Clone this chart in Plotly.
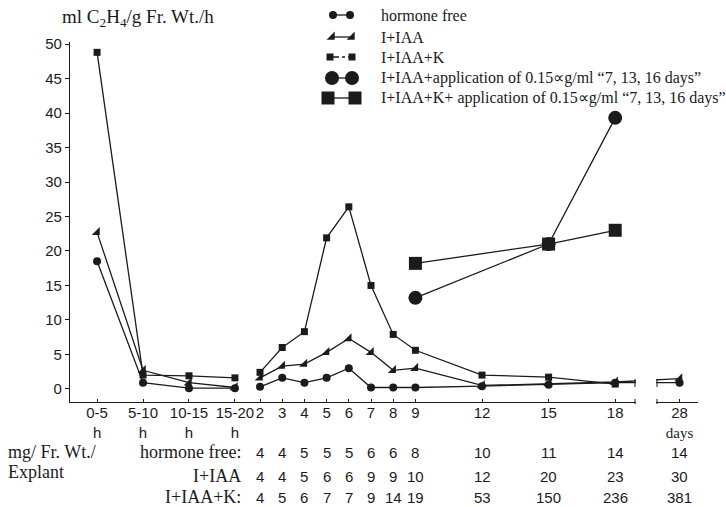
"""Ethylene release of explants: hours 0-20 then days 2-28, with fresh weight table below."""

import plotly.graph_objects as go

W, H = 726, 507

# ── Data ──────────────────────────────────────────────────────────────────
HOUR_BINS = ["0-5", "5-10", "10-15", "15-20"]
DAYS = [2, 3, 4, 5, 6, 7, 8, 9, 12, 15, 18, 28]

hormone_free_h = [18.5, 0.9, 0.1, 0.1]
hormone_free_d = [0.3, 1.6, 0.9, 1.6, 3.0, 0.2, 0.2, 0.2, 0.4, 0.6, 0.9, 0.9]

iaa_h = [22.7, 2.7, 0.9, 0.2]
iaa_d = [1.6, 3.3, 3.6, 5.3, 7.3, 5.3, 2.7, 3.0, 0.5, 0.8, 1.0, 1.5]

iaak_h = [48.8, 2.0, 1.9, 1.6]
iaak_d = [2.4, 6.0, 8.3, 21.9, 26.4, 15.0, 7.9, 5.6, 2.0, 1.7, 0.7, None]

APP_DAYS = [9, 15, 18]
iaa_app = [13.2, 21.0, 39.3]
iaak_app = [18.2, 21.0, 23.0]

# fresh weight table (mg / explant), one value per day column
fw_hormone_free = ["4", "4", "5", "5", "5", "6", "6", "8", "10", "11", "14", "14"]
fw_iaa = ["4", "4", "5", "6", "6", "9", "9", "10", "12", "20", "23", "30"]
fw_iaak = ["4", "5", "6", "7", "7", "9", "14", "19", "53", "150", "236", "381"]

LEGEND_NAMES = [
    "hormone free",
    "I+IAA",
    "I+IAA+K",
    "I+IAA+application of 0.15\u221dg/ml \u201c7, 13, 16 days\u201d",
    "I+IAA+K+ application of 0.15\u221dg/ml \u201c7, 13, 16 days\u201d",
]

# ── Broken x scale: hour bins squeezed in front of day 2, day 28 pulled in ─
def hour_pos(i):
    return 0.87 - 2.07 * (len(HOUR_BINS) - 1 - i)


def day_pos(d):
    return d if d <= 18 else 20.9


hour_x = [hour_pos(i) for i in range(len(HOUR_BINS))]
day_x = [day_pos(d) for d in DAYS]
app_x = [day_pos(d) for d in APP_DAYS]

INK = "#1b1b1b"
SANS = "Liberation Sans, Arial, sans-serif"
SERIF = "Liberation Serif, Times New Roman, serif"
LINE = dict(color=INK, width=1.3)

fig = go.Figure()


def add_series(h_vals, d_vals, symbol, size):
    fig.add_trace(go.Scatter(
        x=hour_x + [None] + day_x,
        y=h_vals + [None] + d_vals,
        mode="lines+markers",
        line=LINE,
        marker=dict(symbol=symbol, size=size, color=INK),
        connectgaps=False,
        showlegend=False,
    ))


add_series(hormone_free_h, hormone_free_d, "circle", 8)
add_series(iaa_h, iaa_d, "triangle-se", 9)
add_series(iaak_h, iaak_d, "square", 7)

fig.add_trace(go.Scatter(
    x=app_x, y=iaa_app, mode="lines+markers", line=LINE,
    marker=dict(symbol="circle", size=14, color=INK), showlegend=False,
))
fig.add_trace(go.Scatter(
    x=app_x, y=iaak_app, mode="lines+markers", line=LINE,
    marker=dict(symbol="square", size=13, color=INK), showlegend=False,
))

# ── Hand-drawn legend on a pixel overlay (markers at both ends) ──────────
legend_rows = [15, 37, 57, 78, 98]
legend_keys = [
    ([333, 350], "circle", 8, "solid"),
    ([332, 352], "triangle-se", 9, "solid"),
    ([330, 352], "square", 7, "dashdot"),
    ([332, 352], "circle", 14, "solid"),
    ([328, 355], "square", 13, "solid"),
]
for row_y, (xs, sym, sz, dash) in zip(legend_rows, legend_keys):
    fig.add_trace(go.Scatter(
        x=xs, y=[row_y, row_y], xaxis="x3", yaxis="y3",
        mode="lines+markers", line=dict(color=INK, width=1.3, dash=dash),
        marker=dict(symbol=sym, size=sz, color=INK), showlegend=False,
        hoverinfo="skip",
    ))

annotations = []
for row_y, name in zip(legend_rows, LEGEND_NAMES):
    annotations.append(dict(
        x=379, y=row_y, xref="x3", yref="y3", text=name, showarrow=False,
        xanchor="left", yanchor="middle", font=dict(family=SERIF, size=16, color=INK),
    ))

# y axis title (the <sub> parts throw off plotly's box measure, hence the larger x)
annotations.append(dict(
    x=60, y=18, xref="x3", yref="y3", showarrow=False,
    xanchor="left", yanchor="middle", align="left",
    text="ml C<sub>2</sub>H<sub>4</sub>/g Fr. Wt./h",
    font=dict(family=SERIF, size=19, color=INK),
))

# fresh weight table
for text, y in [("mg/ Fr. Wt./", 452), ("Explant", 472)]:
    annotations.append(dict(
        x=6, y=y, xref="x3", yref="y3", text=text, showarrow=False,
        xanchor="left", yanchor="middle", font=dict(family=SERIF, size=18, color=INK),
    ))
for label, vals, y in [
    ("hormone free:", fw_hormone_free, 452),
    ("I+IAA", fw_iaa, 476),
    ("I+IAA+K:", fw_iaak, 497),
]:
    annotations.append(dict(
        x=243, y=y, xref="x3", yref="y3", text=label, showarrow=False,
        xanchor="right", yanchor="middle", font=dict(family=SERIF, size=18, color=INK),
    ))
    for xv, v in zip(day_x, vals):
        annotations.append(dict(
            x=xv, y=y, xref="x", yref="y3", text=v, showarrow=False,
            xanchor="center", yanchor="middle", font=dict(family=SANS, size=15, color=INK),
        ))

# axis break between 18 and 28
shapes = [
    dict(type="rect", xref="x3", yref="y3", x0=636, x1=656, y0=362, y1=406,
         fillcolor="white", line=dict(width=0), layer="above"),
]
for bx in (635, 657):
    shapes.append(dict(type="line", xref="x3", yref="y3", x0=bx, x1=bx, y0=379, y1=387,
                       line=dict(color=INK, width=1), layer="above"))
    shapes.append(dict(type="line", xref="x3", yref="y3", x0=bx, x1=bx, y0=399, y1=404,
                       line=dict(color=INK, width=1), layer="above"))

tick_text = [f"{h}<br>h" for h in HOUR_BINS] + [str(d) for d in DAYS[:-1]]
tick_text.append(f"{DAYS[-1]}<br><span style='font-family:Liberation Serif'>days</span>")

fig.update_layout(
    width=W, height=H,
    margin=dict(l=0, r=0, t=0, b=0),
    paper_bgcolor="white",
    plot_bgcolor="rgba(0,0,0,0)",
    showlegend=False,
    xaxis=dict(
        domain=[70 / W, 698 / W],
        range=[-6.56, 21.73],
        tickvals=hour_x + day_x,
        ticktext=tick_text,
        tickangle=0,
        tickfont=dict(family=SANS, size=15, color=INK),
        ticklabelstandoff=-3,
        showline=True, linecolor=INK, linewidth=1.3,
        ticks="inside", ticklen=3, tickcolor=INK,
        showgrid=False, zeroline=False, automargin=False,
    ),
    yaxis=dict(
        domain=[1 - 402 / H, 1 - 42 / H],
        range=[-1.9, 50.3],
        tickvals=list(range(0, 51, 5)),
        tickfont=dict(family=SANS, size=15, color=INK),
        showline=True, linecolor=INK, linewidth=1.3,
        ticks="outside", ticklen=4, tickcolor=INK,
        showgrid=False, zeroline=False, automargin=False,
    ),
    xaxis3=dict(domain=[0, 1], range=[0, W], visible=False, anchor="y3", automargin=False),
    yaxis3=dict(domain=[0, 1], range=[H, 0], visible=False, anchor="x3", automargin=False),
    annotations=annotations,
    shapes=shapes,
)

# drop the browser's default 8px body margin so the figure fills the window exactly
fig.write_html(
    "out.html",
    config={"displayModeBar": False},
    post_script="document.body.style.margin='0';",
)
